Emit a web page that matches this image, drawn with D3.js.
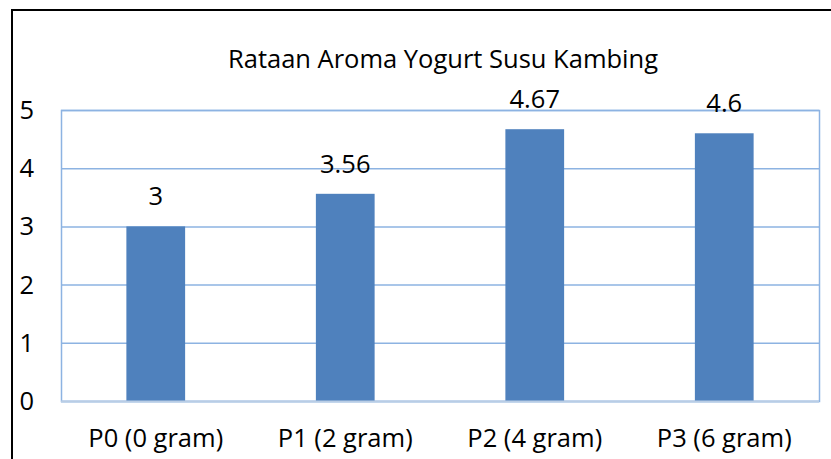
<!DOCTYPE html>
<html>
<head>
<meta charset="utf-8">
<script src="https://cdn.jsdelivr.net/npm/d3@7"></script>
<style>
  body { margin: 0; background: #fff; }
  text { font-family: "Open Sans", Lato, sans-serif; fill: #000; }
</style>
</head>
<body>
<div id="chart"></div>
<script>
(function () {

  var categories = ["P0 (0 gram)", "P1 (2 gram)", "P2 (4 gram)", "P3 (6 gram)"]
  var values = [3, 3.56, 4.67, 4.6]
  var valueLabels = ["3", "3.56", "4.67", "4.6"]
  var yTicks = [0, 1, 2, 3, 4, 5]
  var title = "Rataan Aroma Yogurt Susu Kambing"

  var width = 831, height = 459
  var margin = { top: 110, right: 12, bottom: 58, left: 61 }
  var fontSize = 25.5

  var svg = d3.select("#chart").append("svg")
      .attr("width", width)
      .attr("height", height)

  // outer frame (left + top visible)
  svg.append("path")
    .attr("d", "M12,459 L12,10 L831,10")
    .attr("fill", "none")
    .attr("stroke", "#000")
    .attr("stroke-width", 2)

  var x = d3.scaleBand()
      .domain(categories)
      .range([margin.left, width - margin.right])
      .paddingInner(0.69)
      .paddingOuter(0.345)

  var y = d3.scaleLinear()
      .domain([0, 5])
      .range([height - margin.bottom, margin.top])

  // gridlines
  svg.append("g")
    .selectAll("line")
    .data(yTicks)
    .enter().append("line")
    .attr("x1", margin.left)
    .attr("x2", width - margin.right)
    .attr("y1", function(d) { return y(d) + 0.5 })
    .attr("y2", function(d) { return y(d) + 0.5 })
    .attr("stroke", "#8db3e2")
    .attr("stroke-width", 1.5)

  // plot area border
  svg.append("rect")
    .attr("x", margin.left + 0.5)
    .attr("y", y(5) + 0.5)
    .attr("width", width - margin.right - margin.left)
    .attr("height", y(0) - y(5))
    .attr("fill", "none")
    .attr("stroke", "#8db3e2")
    .attr("stroke-width", 1.5)

  // bars
  svg.selectAll(".bar")
    .data(values)
    .enter().append("rect")
    .attr("class", "bar")
    .attr("x", function(d, i) { return x(categories[i]) })
    .attr("width", x.bandwidth())
    .attr("y", function(d) { return y(d) })
    .attr("height", function(d) { return y(0) - y(d) })
    .attr("fill", "#4f81bd")

  // axis baseline
  svg.append("line")
    .attr("x1", margin.left)
    .attr("x2", width - margin.right)
    .attr("y1", y(0) + 0.5)
    .attr("y2", y(0) + 0.5)
    .attr("stroke", "#b9cde5")
    .attr("stroke-width", 2)

  // value labels
  svg.selectAll(".val")
    .data(values)
    .enter().append("text")
    .attr("class", "val")
    .attr("x", function(d, i) { return x(categories[i]) + x.bandwidth() / 2 })
    .attr("y", function(d) { return y(d) - 21 })
    .attr("text-anchor", "middle")
    .attr("font-size", fontSize)
    .text(function(d, i) { return valueLabels[i] })

  // y tick labels
  svg.selectAll(".ytick")
    .data(yTicks)
    .enter().append("text")
    .attr("class", "ytick")
    .attr("x", 34)
    .attr("y", function(d) { return y(d) + 9 })
    .attr("text-anchor", "end")
    .attr("font-size", fontSize)
    .text(function(d) { return d })

  // x labels
  svg.selectAll(".xlab")
    .data(categories)
    .enter().append("text")
    .attr("class", "xlab")
    .attr("x", function(d) { return x(d) + x.bandwidth() / 2 })
    .attr("y", 447)
    .attr("text-anchor", "middle")
    .attr("font-size", fontSize)
    .text(function(d) { return d })

  svg.append("text")
    .attr("x", 443)
    .attr("y", 68)
    .attr("text-anchor", "middle")
    .attr("font-size", fontSize)
    .text(title)

})()
</script>
</body>
</html>
